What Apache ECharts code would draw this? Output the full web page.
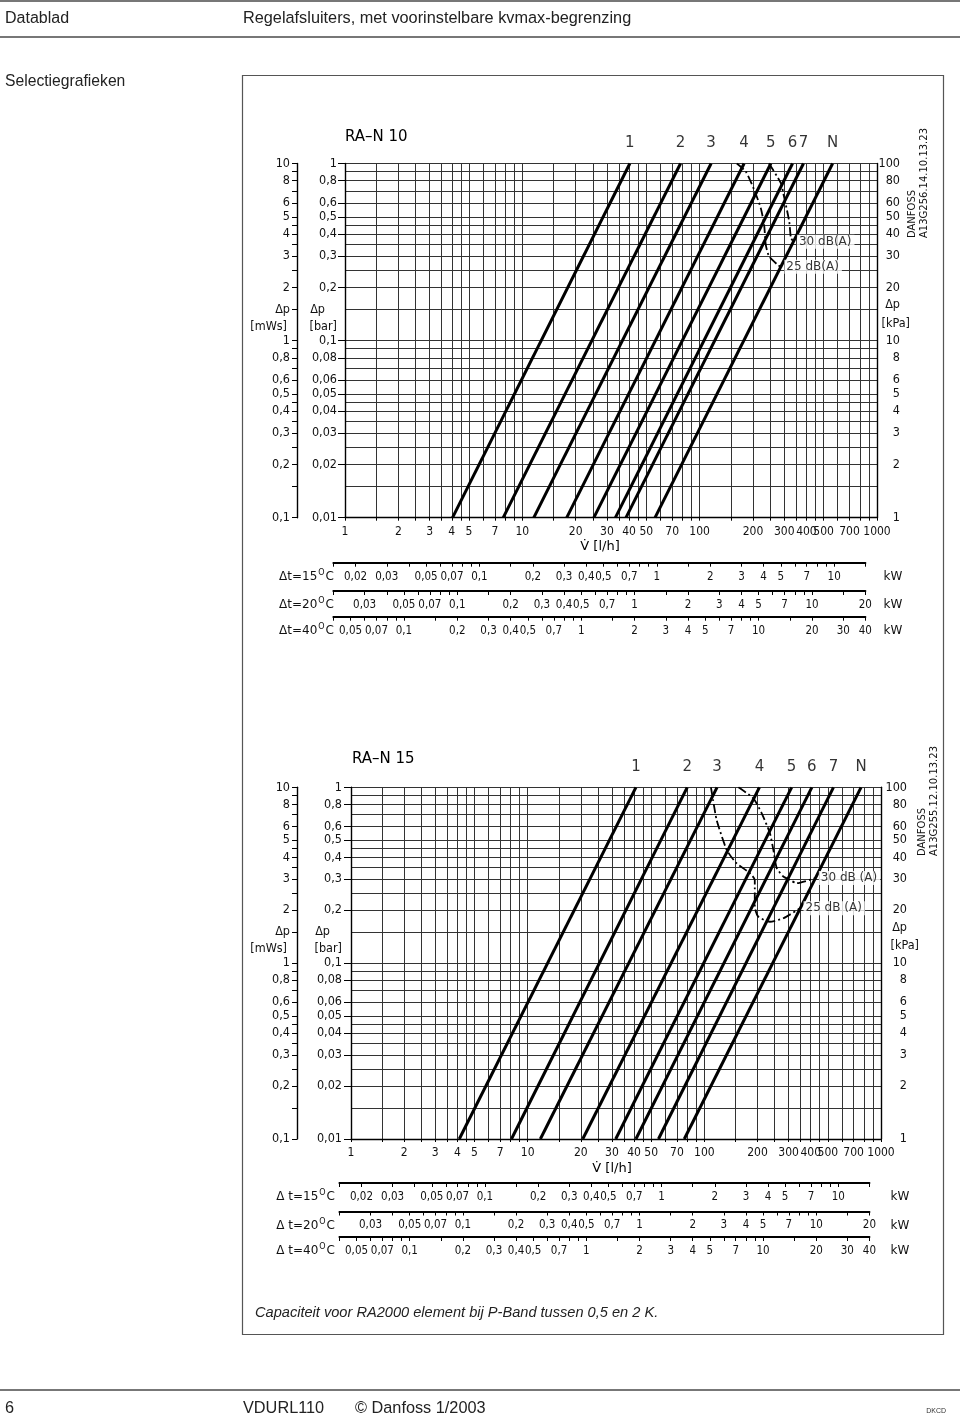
<!DOCTYPE html>
<html>
<head>
<meta charset="utf-8">
<script src="https://cdn.jsdelivr.net/npm/echarts@6/dist/echarts.min.js"></script>
<style>
html,body{margin:0;padding:0;background:#fff;}
#c{width:960px;height:1417px;}
</style>
</head>
<body>
<div id="c"></div>
<script>
// ---------------- DATA ----------------
const settings = ['1', '2', '3', '4', '5', '6', '7', 'N'];
const dpEnds = [0.01, 1]; // bar, bottom and top of the diagram

// RA-N 10 : flow (l/h) of every presetting line at 0.01 bar and at 1 bar
const ra10FlowLow  = [4.04, 7.8, 11.6, 17.8, 25.3, 33.5, 38.4, 56];
const ra10FlowHigh = [40.4, 78, 116, 178, 252, 334, 385, 562];
// RA-N 15
const ra15FlowLow  = [4.1, 8.1, 11.8, 20.5, 31.5, 41, 55, 77];
const ra15FlowHigh = [41, 80, 118, 205, 312, 406, 538, 771];

// noise limit curves (flow l/h, pressure bar)
const ra10Noise25V = [162, 182, 203, 221, 231, 236, 246, 275, 287];
const ra10Noise25P = [1.0, 0.90, 0.71, 0.56, 0.45, 0.347, 0.30, 0.268, 0.261];
const ra10Noise30V = [246, 287, 299, 320, 327, 338];
const ra10Noise30P = [1.0, 0.775, 0.65, 0.47, 0.38, 0.362];
const ra15Noise25V = [109, 112, 117.5, 134, 152, 181, 193, 193, 202, 235, 280, 348];
const ra15Noise25P = [1.0, 0.85, 0.65, 0.44, 0.37, 0.325, 0.297, 0.21, 0.184, 0.172, 0.18, 0.205];
const ra15Noise30V = [156, 189, 211, 235, 246, 257, 280, 305, 333, 425];
const ra15Noise30P = [1.0, 0.867, 0.713, 0.548, 0.44, 0.347, 0.311, 0.297, 0.285, 0.305];

// tick labels
const flowLabels = [1, 2, 3, 4, 5, 7, 10, 20, 30, 40, 50, 70, 100, 200, 300, 400, 500, 700, 1000];
const barLabels  = [1, 0.8, 0.6, 0.5, 0.4, 0.3, 0.2, 0.1, 0.08, 0.06, 0.05, 0.04, 0.03, 0.02, 0.01];
const mwsLabels  = [10, 8, 6, 5, 4, 3, 2, 1, 0.8, 0.6, 0.5, 0.4, 0.3, 0.2, 0.1];
const kpaLabels  = [100, 80, 60, 50, 40, 30, 20, 10, 8, 6, 5, 4, 3, 2, 1];
const barUnits = [[0.15, 'Δp'], [0.12, '[bar]']];
const mwsUnits = [[1.5, 'Δp'], [1.2, '[mWs]']];
const kpaUnits = [[16, 'Δp'], [12.5, '[kPa]']];
const gridMantissas = [1, 1.5, 2, 2.5, 3, 3.5, 4, 4.5, 5, 6, 7, 8, 9];

// heat output scales (kW)
const rowDeltaT = [15, 20, 40];
const rowKwRange = [[0.015, 15], [0.02, 20], [0.04, 40]];
const kw15Labels = [0.02, 0.03, 0.05, 0.07, 0.1, 0.2, 0.3, 0.4, 0.5, 0.7, 1, 2, 3, 4, 5, 7, 10];
const kw20Labels = [0.03, 0.05, 0.07, 0.1, 0.2, 0.3, 0.4, 0.5, 0.7, 1, 2, 3, 4, 5, 7, 10, 20];
const kw40Labels = [0.05, 0.07, 0.1, 0.2, 0.3, 0.4, 0.5, 0.7, 1, 2, 3, 4, 5, 7, 10, 20, 30, 40];
const rowLabels = [kw15Labels, kw20Labels, kw40Labels];
const rowTickMantissas = [1, 1.5, 2, 3, 4, 5, 6, 7, 8, 9];
const waterHeat = 1.163e-3; // kW per (l/h * K)

// ---------------- LAYOUT ----------------
const FONT = 'DejaVu Sans';
const TFONT = "'DejaVu Sans Condensed', 'DejaVu Sans'";
const SANS = 'Liberation Sans';
const YFS = 12.5;
const XFS = 12;
const ROWFS = 11.5;
const GRIDC = '#333';
const charts = [
  {
    title: 'RA–N 10', titleX: 345, titleY: 137,
    left: 345, top: 163.5, right: 877, bottom: 517.7, mwsOffset: 48,
    low: ra10FlowLow, high: ra10FlowHigh,
    n25V: ra10Noise25V, n25P: ra10Noise25P, n30V: ra10Noise30V, n30P: ra10Noise30P,
    n25Text: '25 dB(A)', n30Text: '30 dB(A)',
    danfoss: 'A13G256.14.10.13.23', danX: 918, danY: 238,
    vX: 600, vY: 547,
    rowY: [562.7, 591, 616.7],
    rowTitles: ['Δt=15', 'Δt=20', 'Δt=40'], rowTitleX: 334, kwX: 893,
    kpaMargin: 33, kpaPad: 10, barMargin: 8, barPad: 12
  },
  {
    title: 'RA–N 15', titleX: 352, titleY: 759,
    left: 351, top: 787.3, right: 881, bottom: 1139, mwsOffset: 54,
    low: ra15FlowLow, high: ra15FlowHigh,
    n25V: ra15Noise25V, n25P: ra15Noise25P, n30V: ra15Noise30V, n30P: ra15Noise30P,
    n25Text: '25 dB (A)', n30Text: '30 dB (A)',
    danfoss: 'A13G255.12.10.13.23', danX: 928, danY: 856,
    vX: 612, vY: 1169,
    rowY: [1183, 1211.5, 1237],
    rowTitles: ['Δ t=15', 'Δ t=20', 'Δ t=40'], rowTitleX: 335, kwX: 900,
    kpaMargin: 38, kpaPad: 12, barMargin: 9, barPad: 12
  }
];

function logGrid(min, max, mantissas) {
  const out = [];
  for (let e = Math.floor(Math.log10(min)) - 1; e <= Math.ceil(Math.log10(max)); e++) {
    for (const m of mantissas) {
      const v = +(m * Math.pow(10, e)).toPrecision(6);
      if (v >= min * 0.99999 && v <= max * 1.00001) out.push(v);
    }
  }
  return out;
}
function fmtNum(v) { return String(+(+v).toPrecision(6)).replace('.', ','); }
function unitText(v, units) {
  for (const [uv, t] of units) if (Math.abs(v - uv) / uv < 1e-6) return t;
  return null;
}

const option = { animation: false, backgroundColor: '#fff', grid: [], xAxis: [], yAxis: [], series: [], graphic: [] };
const axisBlack = { show: true, lineStyle: { color: '#000', width: 1.4 } };
const labelBase = { fontFamily: TFONT, fontSize: YFS, color: '#111', showMinLabel: true, showMaxLabel: true, hideOverlap: false };

charts.forEach((ch) => {
  const g = option.grid.length;
  option.grid.push({ left: ch.left, top: ch.top, width: ch.right - ch.left, height: ch.bottom - ch.top });
  const xMain = option.xAxis.length;
  option.xAxis.push({
    type: 'log', logBase: 10, gridIndex: g, min: 1, max: 1000, position: 'bottom',
    axisLine: axisBlack,
    axisTick: { show: true, customValues: logGrid(1, 1000, gridMantissas), length: 3, lineStyle: { color: '#000', width: 1 } },
    axisLabel: Object.assign({}, labelBase, { customValues: flowLabels, margin: 8, fontSize: XFS, formatter: v => fmtNum(v) }),
    splitLine: { show: true, lineStyle: { color: GRIDC, width: 1 } },
    minorTick: { show: false }, minorSplitLine: { show: false }
  });
  const yBar = option.yAxis.length;
  option.yAxis.push({
    type: 'log', logBase: 10, gridIndex: g, min: 0.01, max: 1, position: 'left', offset: 0,
    axisLine: axisBlack,
    axisTick: { show: true, customValues: barLabels, length: 7, lineStyle: { color: '#000', width: 1 } },
    axisLabel: Object.assign({
      customValues: barLabels.concat(barUnits.map(u => u[0])), margin: ch.barMargin,
      formatter: v => { const t = unitText(v, barUnits); return t === 'Δp' ? '{p|Δp}' : (t || fmtNum(v)); },
      rich: { p: { fontFamily: TFONT, fontSize: YFS, color: '#111', padding: [0, ch.barPad, 0, 0] } }
    }, labelBase),
    splitLine: { show: false }
  });
  option.yAxis.push({
    type: 'log', logBase: 10, gridIndex: g, min: 0.1, max: 10, position: 'left', offset: ch.mwsOffset,
    axisLine: axisBlack,
    axisTick: { show: true, customValues: logGrid(0.1, 10, gridMantissas), length: 5, lineStyle: { color: '#000', width: 1 } },
    axisLabel: Object.assign({
      customValues: mwsLabels.concat(mwsUnits.map(u => u[0])), margin: 7,
      formatter: v => { const t = unitText(v, mwsUnits); return t === '[mWs]' ? '{u|[mWs]}' : (t || fmtNum(v)); },
      rich: { u: { fontFamily: TFONT, fontSize: YFS, color: '#111', padding: [0, 3, 0, 0] } }
    }, labelBase),
    splitLine: { show: false }
  });
  option.yAxis.push({
    type: 'log', logBase: 10, gridIndex: g, min: 1, max: 100, position: 'right', offset: 0,
    axisLine: axisBlack,
    axisTick: { show: false, customValues: logGrid(1, 100, gridMantissas) },
    axisLabel: Object.assign({
      customValues: kpaLabels.concat(kpaUnits.map(u => u[0])), margin: ch.kpaMargin, align: 'right',
      formatter: v => { const t = unitText(v, kpaUnits); return t === '[kPa]' ? '{u|[kPa]}' : '{n|' + (t || fmtNum(v)) + '}'; },
      rich: {
        n: { fontFamily: TFONT, fontSize: YFS, color: '#111', padding: [0, ch.kpaPad, 0, 0] },
        u: { fontFamily: TFONT, fontSize: YFS, color: '#111' }
      }
    }, labelBase),
    splitLine: { show: true, lineStyle: { color: GRIDC, width: 1 } }
  });

  // presetting lines
  ch.low.forEach((lo, i) => {
    option.series.push({
      type: 'line', name: settings[i], xAxisIndex: xMain, yAxisIndex: yBar, silent: true,
      data: [[lo, dpEnds[0]], [ch.high[i], dpEnds[1]]], symbol: 'none', z: 4,
      lineStyle: { color: '#000', width: 3 }
    });
  });
  // noise curves
  [[ch.n25V, ch.n25P], [ch.n30V, ch.n30P]].forEach(([vs, ps]) => {
    option.series.push({
      type: 'line', xAxisIndex: xMain, yAxisIndex: yBar, silent: true, symbol: 'none', smooth: 0.2, z: 5,
      data: vs.map((v, i) => [v, ps[i]]),
      lineStyle: { color: '#000', width: 1.8, type: [9, 3, 2, 3] }
    });
  });
  // setting names above line tops
  option.series.push({
    type: 'scatter', xAxisIndex: xMain, yAxisIndex: yBar, silent: true, clip: false, symbolSize: 1,
    itemStyle: { color: 'rgba(0,0,0,0)' },
    data: settings.map((s, i) => ({ name: s, value: [ch.high[i], dpEnds[1]] })),
    label: { show: true, position: 'top', distance: 12, formatter: '{b}', fontFamily: FONT, fontSize: 15, color: '#000' }
  });
  // noise labels
  option.series.push({
    type: 'scatter', xAxisIndex: xMain, yAxisIndex: yBar, silent: true, clip: false, symbolSize: 1, z: 6,
    itemStyle: { color: 'rgba(0,0,0,0)' },
    data: [
      { name: ch.n30Text, value: [ch.n30V[ch.n30V.length - 1], ch.n30P[ch.n30P.length - 1]] },
      { name: ch.n25Text, value: [ch.n25V[ch.n25V.length - 1], ch.n25P[ch.n25P.length - 1]] }
    ],
    label: { show: true, position: 'right', distance: 3, formatter: '{b}', fontFamily: FONT, fontSize: 12, color: '#000',
             backgroundColor: '#fff', padding: [1, 3, 1, 2] }
  });

  // heat output rows
  const decade = (ch.right - ch.left) / 3;
  rowDeltaT.forEach((dt, r) => {
    const [kmin, kmax] = rowKwRange[r];
    const rl = ch.left + decade * Math.log10(kmin / (dt * waterHeat));
    const rw = decade * Math.log10(kmax / kmin);
    const gr = option.grid.length;
    option.grid.push({ left: rl, top: ch.rowY[r] - 1, width: rw, height: 1 });
    option.xAxis.push({
      type: 'log', logBase: 10, gridIndex: gr, min: kmin, max: kmax, position: 'bottom',
      axisLine: { show: true, lineStyle: { color: '#000', width: 2 } },
      axisTick: { show: true, customValues: logGrid(kmin, kmax, rowTickMantissas), length: 4, lineStyle: { color: '#000', width: 1 } },
      axisLabel: Object.assign({}, labelBase, { customValues: rowLabels[r], margin: 8, fontSize: ROWFS, formatter: v => fmtNum(v) }),
      splitLine: { show: false }, minorTick: { show: false }
    });
    option.yAxis.push({ type: 'value', gridIndex: gr, show: false, min: 0, max: 1 });
    option.graphic.push({
      type: 'text', x: ch.rowTitleX, y: ch.rowY[r] + 14, silent: true,
      style: {
        text: '{a|' + ch.rowTitles[r] + '}{s|O}{a|C}', align: 'right', verticalAlign: 'middle',
        rich: {
          a: { fontFamily: FONT, fontSize: 12, fill: '#111' },
          s: { fontFamily: FONT, fontSize: 8, fill: '#111', padding: [0, 1, 8, 1] }
        }
      }
    });
    option.graphic.push({
      type: 'text', x: ch.kwX, y: ch.rowY[r] + 14, silent: true,
      style: { text: 'kW', align: 'center', verticalAlign: 'middle', font: '12px "' + FONT + '"', fill: '#111' }
    });
  });

  option.graphic.push(
    { type: 'text', x: ch.titleX, y: ch.titleY, silent: true,
      style: { text: ch.title, align: 'left', verticalAlign: 'middle', font: '15px "' + FONT + '"', fill: '#000' } },
    { type: 'text', x: ch.vX, y: ch.vY, silent: true,
      style: { text: 'V\u0307 [l/h]', align: 'center', verticalAlign: 'middle', font: '13px "' + FONT + '"', fill: '#000' } },
    { type: 'text', x: ch.danX, y: ch.danY, rotation: Math.PI / 2, silent: true,
      style: { text: 'DANFOSS\n' + ch.danfoss, align: 'left', verticalAlign: 'middle', font: '10px "' + FONT + '"', fill: '#111', lineHeight: 12 } }
  );
});

// page furniture
option.graphic.push(
  { type: 'line', silent: true, shape: { x1: 0, y1: 1, x2: 960, y2: 1 }, style: { stroke: '#777', lineWidth: 2 } },
  { type: 'text', x: 5, y: 19, silent: true, style: { text: 'Datablad', verticalAlign: 'middle', font: '16px "' + SANS + '"', fill: '#222' } },
  { type: 'text', x: 243, y: 19, silent: true, style: { text: 'Regelafsluiters, met voorinstelbare kvmax-begrenzing', verticalAlign: 'middle', font: '16.3px "' + SANS + '"', fill: '#222' } },
  { type: 'line', silent: true, shape: { x1: 0, y1: 37, x2: 960, y2: 37 }, style: { stroke: '#777', lineWidth: 2 } },
  { type: 'text', x: 5, y: 82, silent: true, style: { text: 'Selectiegrafieken', verticalAlign: 'middle', font: '15.7px "' + SANS + '"', fill: '#222' } },
  { type: 'rect', silent: true, shape: { x: 242.5, y: 75.5, width: 701, height: 1259 }, style: { fill: 'none', stroke: '#555', lineWidth: 1.2 } },
  { type: 'text', x: 255, y: 1313, silent: true, style: { text: 'Capaciteit voor RA2000 element bij P-Band tussen 0,5 en 2 K.', verticalAlign: 'middle', font: 'italic 14.6px "' + SANS + '"', fill: '#222' } },
  { type: 'line', silent: true, shape: { x1: 0, y1: 1390, x2: 960, y2: 1390 }, style: { stroke: '#777', lineWidth: 2 } },
  { type: 'text', x: 5, y: 1409, silent: true, style: { text: '6', verticalAlign: 'middle', font: '16.3px "' + SANS + '"', fill: '#222' } },
  { type: 'text', x: 243, y: 1409, silent: true, style: { text: 'VDURL110', verticalAlign: 'middle', font: '16.3px "' + SANS + '"', fill: '#222' } },
  { type: 'text', x: 355, y: 1409, silent: true, style: { text: '© Danfoss 1/2003', verticalAlign: 'middle', font: '16.3px "' + SANS + '"', fill: '#222' } },
  { type: 'text', x: 946, y: 1411, silent: true, style: { text: 'DKCD', align: 'right', verticalAlign: 'middle', font: '7px "' + SANS + '"', fill: '#333' } }
);

const chart = echarts.init(document.getElementById('c'), null, { renderer: 'canvas' });
chart.setOption(option);
</script>
</body>
</html>
